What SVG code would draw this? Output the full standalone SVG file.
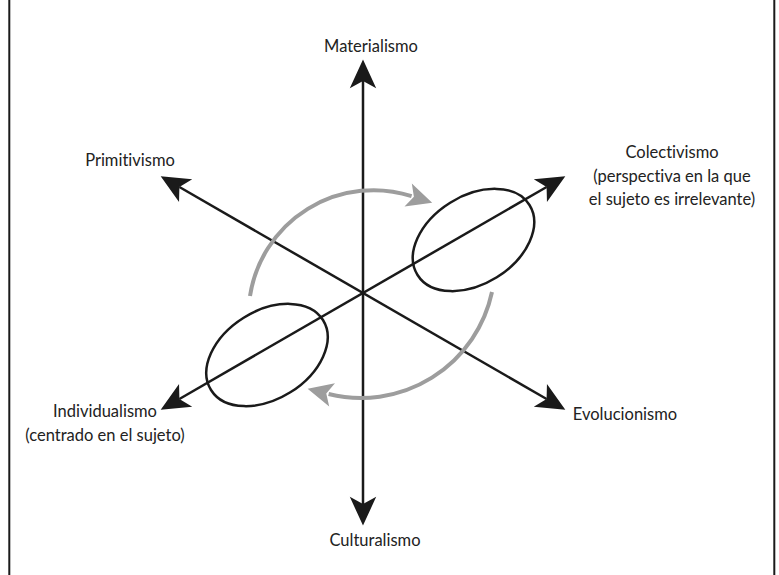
<svg xmlns="http://www.w3.org/2000/svg" width="779" height="575" viewBox="0 0 779 575">
  <style>
    .lbl { font-family: "Lato", "Open Sans", "Liberation Sans", sans-serif; font-size: 16.5px; fill: #222; text-anchor: middle; font-variant-ligatures: none; }
    .axis { stroke: #1a1a1a; stroke-width: 2.5; fill: none; marker-start: url(#ah); marker-end: url(#ah); }
    .arc { stroke: #9d9d9d; stroke-width: 4; fill: none; marker-end: url(#gh); }
    .ell { stroke: #1a1a1a; stroke-width: 2.5; fill: none; }
    .frame { stroke: #1a1a1a; stroke-width: 2; fill: none; }
  </style>
  <defs>
    <marker id="ah" markerUnits="userSpaceOnUse" markerWidth="30" markerHeight="30" viewBox="0 -12 25 24" refX="6" refY="0" orient="auto-start-reverse" overflow="visible">
      <path d="M24,0 L0,-11 L6,0 L0,11 Z" fill="#1a1a1a"/>
    </marker>
    <marker id="gh" markerUnits="userSpaceOnUse" markerWidth="30" markerHeight="30" viewBox="0 -12 25 24" refX="3" refY="0" orient="auto" overflow="visible">
      <path d="M21,0 L0,-10 L5,0 L0,10 Z" fill="#9d9d9d"/>
    </marker>
  </defs>

  <rect class="frame" x="9.3" y="-10" width="765" height="600"/>

  <g id="connectors">
    <line class="axis" x1="363" y1="81" x2="363" y2="504"/>
    <line class="axis" x1="179.4" y1="187" x2="546.6" y2="399"/>
    <line class="axis" x1="179.4" y1="399" x2="546.6" y2="187"/>
    <path class="arc" d="M250,296 A125,125 0 0 1 411.6,196.1"/>
    <path class="arc" d="M492,292 A134,134 0 0 1 328.6,394"/>
  </g>

  <g id="ellipse-colectivismo">
    <ellipse class="ell" cx="473.5" cy="240" rx="66" ry="44" transform="rotate(-32 473.5 240)"/>
  </g>
  <g id="ellipse-individualismo">
    <ellipse class="ell" cx="267" cy="355" rx="66" ry="44" transform="rotate(-32 267 355)"/>
  </g>

  <g id="materialismo">
    <text class="lbl" x="371" y="52">Materialismo</text>
  </g>
  <g id="primitivismo">
    <text class="lbl" x="130" y="166">Primitivismo</text>
  </g>
  <g id="colectivismo">
    <text class="lbl" x="672" y="158">Colectivismo</text>
    <text class="lbl" x="672" y="181.5">(perspectiva en la que</text>
    <text class="lbl" x="672" y="205">el sujeto es irrelevante)</text>
  </g>
  <g id="individualismo">
    <text class="lbl" x="105" y="417">Individualismo</text>
    <text class="lbl" x="105" y="441">(centrado en el sujeto)</text>
  </g>
  <g id="evolucionismo">
    <text class="lbl" x="625" y="420">Evolucionismo</text>
  </g>
  <g id="culturalismo">
    <text class="lbl" x="375" y="546">Culturalismo</text>
  </g>
</svg>
